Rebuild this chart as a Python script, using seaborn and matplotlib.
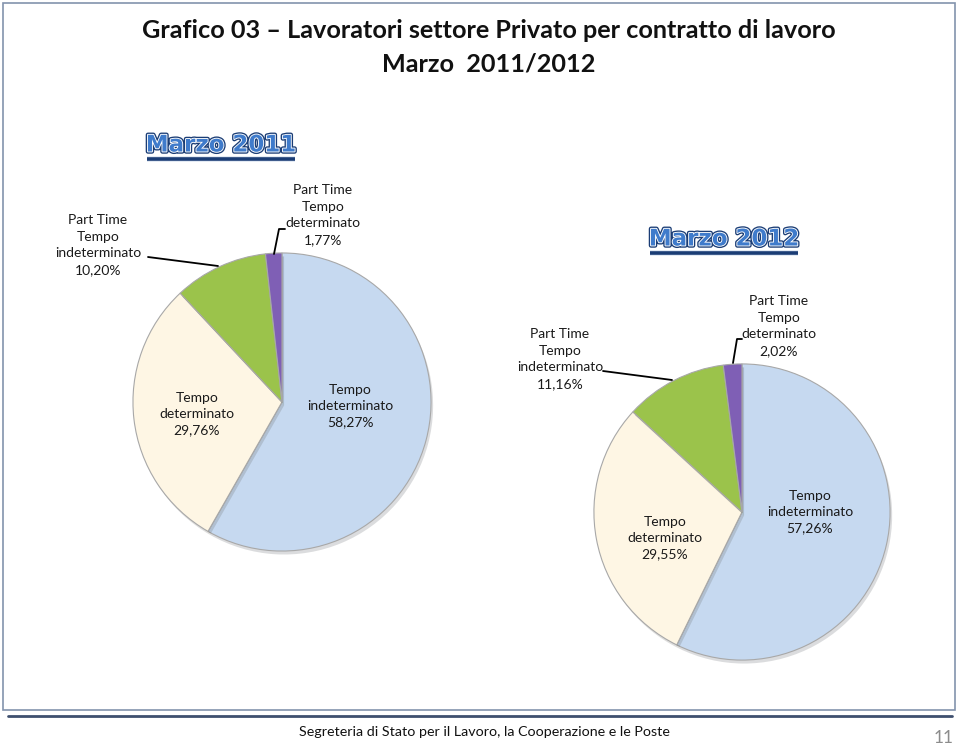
import matplotlib
matplotlib.use("Agg")
import matplotlib.pyplot as plt
import matplotlib.patheffects as pe
from matplotlib.patches import Rectangle
import seaborn as sns

# ---- data ------------------------------------------------------------
categories = ['Tempo indeterminato', 'Tempo determinato',
              'Part Time Tempo indeterminato', 'Part Time Tempo determinato']
share_2011 = [58.27, 29.76, 10.20, 1.77]
share_2012 = [57.26, 29.55, 11.16, 2.02]
years = ['Marzo 2011', 'Marzo 2012']

title = 'Grafico 03 \u2013 Lavoratori settore Privato per contratto di lavoro'
subtitle = 'Marzo  2011/2012'
footer = 'Segreteria di Stato per il Lavoro, la Cooperazione e le Poste'
page_no = '11'

# ---- style -----------------------------------------------------------
sns.set_theme(style='white')
plt.rcParams['font.family'] = ['Lato', 'DejaVu Sans']
slice_colors = ['#C6D9F0', '#FEF6E4', '#9BC34B', '#7F5FB5']

W, H = 959, 747
fig = plt.figure(figsize=(W / 100, H / 100), dpi=100)
fig.patch.set_facecolor('white')


def pie_axes(cx, cy, r):
    return fig.add_axes([(cx - r) / W, 1 - (cy + r) / H, 2 * r / W, 2 * r / H])


def label_text(cat, v):
    s = f'{v:.2f}'.replace('.', ',') + '%'
    if cat.startswith('Part Time'):
        return 'Part Time\n' + cat[len('Part Time '):].replace(' ', '\n') + '\n' + s
    return cat.replace(' ', '\n') + '\n' + s


def draw_pie(ax, values):
    wedges, _ = ax.pie(values, colors=slice_colors, startangle=90, counterclock=False,
                       radius=1.0,
                       wedgeprops=dict(edgecolor='#A8A8A8', linewidth=0.8))
    for w in wedges:
        w.set_path_effects([pe.SimplePatchShadow(offset=(1.5, -2.5), alpha=0.18), pe.Normal()])
    ax.set_xlim(-1.04, 1.04)
    ax.set_ylim(-1.04, 1.04)
    ax.axis('off')


ax1 = pie_axes(282, 402, 155)
draw_pie(ax1, share_2011)
ax2 = pie_axes(742, 512, 154)
draw_pie(ax2, share_2012)

# ---- overlay in pixel coordinates ------------------------------------
ov = fig.add_axes([0, 0, 1, 1], facecolor='none')
ov.set_xlim(0, W)
ov.set_ylim(H, 0)
ov.axis('off')

# outer frame
ov.add_patch(Rectangle((3, 3), 952, 707, fill=False, edgecolor='#8393AD', linewidth=1.2))

ov.text(489, 30, title, ha='center', va='center', fontsize=18.2, fontweight='bold', color='#111111')
ov.text(489, 64, subtitle, ha='center', va='center', fontsize=18.2, fontweight='bold', color='#111111')

# wordart-style year headings
for (x, y), yr in zip([(221, 145), (724, 239)], years):
    ov.text(x, y, yr, ha='center', va='center', fontsize=16.5, fontweight='bold',
            family='DejaVu Sans', color='#3F7BCB',
            path_effects=[pe.Stroke(linewidth=3.2, foreground='#1B3D75'),
                          pe.Stroke(linewidth=1.3, foreground='white'),
                          pe.Normal()])
    ov.plot([x - 74, x + 74], [y + 14, y + 14], color='#1B3D75', linewidth=2.6,
            solid_capstyle='butt',
            path_effects=[pe.Stroke(linewidth=4, foreground='#DDE6F2'), pe.Normal()])

lbl = dict(ha='center', va='center', fontsize=10, linespacing=1.45, color='#1A1A1A')

# 2011 labels
ov.text(350, 406, label_text(categories[0], share_2011[0]), **lbl)
ov.text(197, 414, label_text(categories[1], share_2011[1]), **lbl)
ov.text(98, 245, label_text(categories[2], share_2011[2]), **lbl)
ov.text(323, 215, label_text(categories[3], share_2011[3]), **lbl)
ov.plot([148, 218], [257, 266], color='black', linewidth=1.3)
ov.plot([285, 279, 274], [229, 229, 254], color='black', linewidth=1.3)

# 2012 labels
ov.text(810, 512, label_text(categories[0], share_2012[0]), **lbl)
ov.text(665, 538, label_text(categories[1], share_2012[1]), **lbl)
ov.text(560, 359, label_text(categories[2], share_2012[2]), **lbl)
ov.text(779, 326, label_text(categories[3], share_2012[3]), **lbl)
ov.plot([603, 672], [371, 380], color='black', linewidth=1.3)
ov.plot([742, 737, 733], [339, 339, 363], color='black', linewidth=1.3)

# footer
ov.plot([8, 952], [716, 716], color='#3E4F6E', linewidth=2)
ov.text(484, 732, footer, ha='center', va='center', fontsize=10.3, color='#111111')
ov.text(944, 738, page_no, ha='center', va='center', fontsize=12.5, color='#8C8C8C')

fig.savefig('out.png', dpi=100)
